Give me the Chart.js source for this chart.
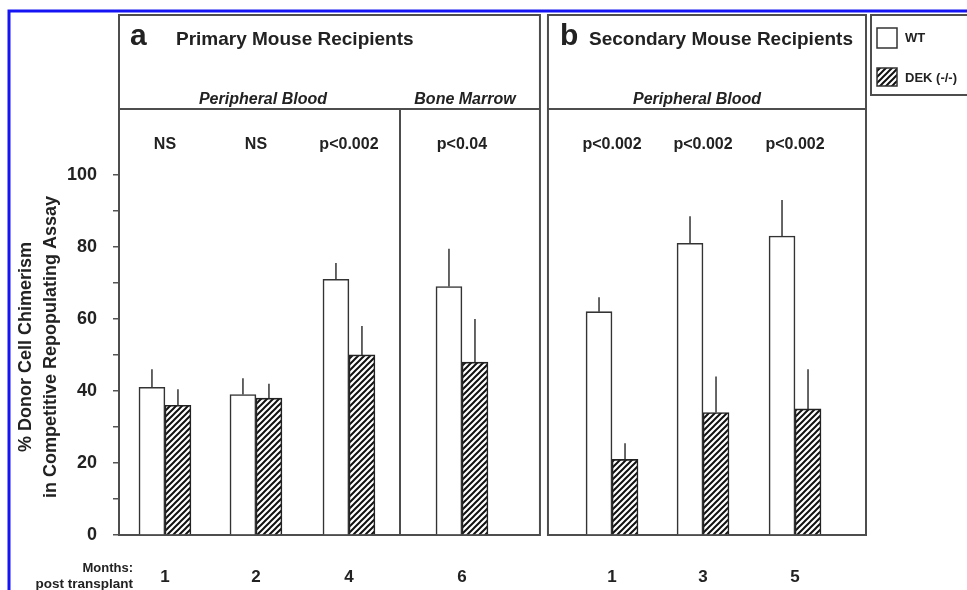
<!DOCTYPE html>
<html>
<head>
<meta charset="utf-8">
<script src="https://cdn.jsdelivr.net/npm/chart.js@4.4.1/dist/chart.umd.min.js"></script>
<style>
  body { margin: 0; background: #fff; }
  canvas { display: block; }
</style>
</head>
<body>
<canvas id="grafica_quimerismo" width="967" height="590"></canvas>
<script>
// datos
const meses = ['1', '2', '4', '6', '1', '3', '5'];
const valoresWT = [41, 39, 71, 69, 62, 81, 83];
const erroresWT = [5, 4.5, 4.5, 10.5, 4, 7.5, 10];
const valoresDEK = [36, 38, 50, 48, 21, 34, 35];
const erroresDEK = [4.5, 4, 8, 12, 4.5, 10, 11];
const significancia = ['NS', 'NS', 'p<0.002', 'p<0.04', 'p<0.002', 'p<0.002', 'p<0.002'];
const letrasPanel = ['a', 'b'];
const titulosPanel = ['Primary Mouse Recipients', 'Secondary Mouse Recipients'];
const regiones = ['Peripheral Blood', 'Bone Marrow', 'Peripheral Blood'];
const series = ['WT', 'DEK (-/-)'];
const ticksY = [0, 10, 20, 30, 40, 50, 60, 70, 80, 90, 100];

// disposicion horizontal (en unidades del eje x)
const posicionX = [0.505, 1.505, 2.527, 3.769, 5.418, 6.418, 7.429];
const panelA = [0, 4.626];
const panelB = [4.714, 8.209];
const divisorA = 3.088;
const centrosRegion = [1.582, 3.802, 6.352];

const fuente = '"Liberation Sans", Arial, Helvetica, sans-serif';
Chart.defaults.font.family = fuente;
Chart.defaults.color = '#222';

function crearRayado() {
    const c = document.createElement('canvas');
    c.width = 6;
    c.height = 6;
    const g = c.getContext('2d');
    g.fillStyle = '#fff';
    g.fillRect(0, 0, 6, 6);
    g.strokeStyle = '#111';
    g.lineWidth = 2;
    g.beginPath();
    g.moveTo(0, 6); g.lineTo(6, 0);
    g.moveTo(-1, 1); g.lineTo(1, -1);
    g.moveTo(5, 7); g.lineTo(7, 5);
    g.stroke();
    return g.createPattern(c, 'repeat');
}

const rayado = crearRayado();

// marcos, titulos, valores p y leyenda
const decoracion = {
    id: 'decoracion',
    beforeDatasetsDraw(chart) {
        const ctx = chart.ctx;
        const x = chart.scales.x, y = chart.scales.y;
        const base = y.getPixelForValue(0);
        const arriba = 15, cabecera = 109;
        ctx.save();

        // marco azul
        ctx.strokeStyle = '#1414f5';
        ctx.lineWidth = 3;
        ctx.beginPath();
        ctx.moveTo(9, 600);
        ctx.lineTo(9, 11);
        ctx.lineTo(990, 11);
        ctx.stroke();

        // paneles
        ctx.strokeStyle = '#4d4d4d';
        ctx.lineWidth = 2;
        [panelA, panelB].forEach(function (p) {
            const l = x.getPixelForValue(p[0]), r = x.getPixelForValue(p[1]);
            ctx.strokeRect(l, arriba, r - l, base - arriba);
            ctx.beginPath();
            ctx.moveTo(l, cabecera);
            ctx.lineTo(r, cabecera);
            ctx.stroke();
        });
        const d = x.getPixelForValue(divisorA);
        ctx.beginPath();
        ctx.moveTo(d, cabecera);
        ctx.lineTo(d, base);
        ctx.stroke();

        // leyenda
        ctx.strokeRect(871, arriba, 120, 80);
        ctx.lineWidth = 1.5;
        ctx.strokeStyle = '#333';
        ctx.fillStyle = '#fff';
        ctx.fillRect(877, 28, 20, 20);
        ctx.strokeRect(877, 28, 20, 20);
        ctx.fillStyle = rayado;
        ctx.fillRect(877, 68, 20, 18);
        ctx.strokeRect(877, 68, 20, 18);
        ctx.fillStyle = '#222';
        ctx.font = 'bold 13px ' + fuente;
        ctx.textAlign = 'left';
        ctx.textBaseline = 'middle';
        ctx.fillText(series[0], 905, 38);
        ctx.fillText(series[1], 905, 78);

        // titulos de panel
        ctx.textBaseline = 'alphabetic';
        ctx.font = 'bold 30px ' + fuente;
        ctx.fillText(letrasPanel[0], 130, 45);
        ctx.fillText(letrasPanel[1], 560, 45);
        ctx.font = 'bold 19px ' + fuente;
        ctx.fillText(titulosPanel[0], 176, 45);
        ctx.fillText(titulosPanel[1], 589, 45);

        // regiones
        ctx.textAlign = 'center';
        ctx.font = 'italic bold 16px ' + fuente;
        regiones.forEach(function (t, i) {
            ctx.fillText(t, x.getPixelForValue(centrosRegion[i]), 104);
        });

        // valores p
        ctx.font = 'bold 16px ' + fuente;
        ctx.textBaseline = 'middle';
        significancia.forEach(function (t, i) {
            ctx.fillText(t, x.getPixelForValue(posicionX[i]), 145);
        });

        // meses
        ctx.textAlign = 'right';
        ctx.font = 'bold 13px ' + fuente;
        ctx.fillText('Months:', 133, 568);
        ctx.font = 'bold 13.5px ' + fuente;
        ctx.fillText('post transplant', 133, 584);
        ctx.restore();
    },
    afterDatasetsDraw(chart) {
        const ctx = chart.ctx;
        const y = chart.scales.y;
        const errores = [erroresWT, erroresDEK];
        ctx.save();
        ctx.strokeStyle = '#333';
        ctx.lineWidth = 1.5;
        chart.data.datasets.forEach(function (ds, k) {
            const meta = chart.getDatasetMeta(k);
            meta.data.forEach(function (barra, i) {
                const tope = y.getPixelForValue(ds.data[i].y + errores[k][i]);
                ctx.beginPath();
                ctx.moveTo(barra.x, barra.y);
                ctx.lineTo(barra.x, tope);
                ctx.stroke();
            });
        });
        ctx.restore();
    }
};

function GraficaQuimerismo() {
    let ctx = document.getElementById('grafica_quimerismo').getContext('2d');
    const chart = new Chart(ctx, {
        type: 'bar',
        data: {
            datasets: [
                {
                    label: series[0],
                    data: posicionX.map(function (px, i) { return { x: px, y: valoresWT[i] }; }),
                    backgroundColor: '#fff',
                    borderColor: '#333',
                    borderWidth: 1.6,
                    barThickness: 26
                },
                {
                    label: series[1],
                    data: posicionX.map(function (px, i) { return { x: px, y: valoresDEK[i] }; }),
                    backgroundColor: rayado,
                    borderColor: '#222',
                    borderWidth: 1.6,
                    barThickness: 26
                }
            ]
        },
        options: {
            responsive: false,
            animation: false,
            devicePixelRatio: 1,
            layout: { padding: { top: 159, right: 101, left: 0, bottom: 0 } },
            plugins: {
                legend: { display: false },
                tooltip: { enabled: false }
            },
            scales: {
                x: {
                    type: 'linear',
                    offset: false,
                    min: 0,
                    max: 8.209,
                    grid: { display: false, offset: false },
                    border: { display: false },
                    afterBuildTicks: function (s) {
                        s.ticks = posicionX.map(function (v) { return { value: v }; });
                    },
                    afterFit: function (s) { s.height = 55; },
                    ticks: {
                        autoSkip: false,
                        maxRotation: 0,
                        padding: 24,
                        color: '#222',
                        font: { size: 17, weight: 'bold' },
                        callback: function (v, i) { return meses[i]; }
                    }
                },
                y: {
                    min: 0,
                    max: 104.4,
                    afterBuildTicks: function (s) {
                        s.ticks = ticksY.map(function (v) { return { value: v }; });
                    },
                    afterFit: function (s) { s.width = 119; },
                    grid: {
                        drawOnChartArea: false,
                        drawTicks: true,
                        tickLength: 6,
                        color: '#555',
                        lineWidth: 1.5
                    },
                    border: { display: false },
                    ticks: {
                        padding: 16,
                        color: '#222',
                        font: { size: 18, weight: 'bold' },
                        callback: function (v) { return v % 20 === 0 ? v : ''; }
                    },
                    title: {
                        display: true,
                        text: ['% Donor Cell Chimerism', 'in Competitive Repopulating Assay'],
                        color: '#222',
                        font: { size: 18, weight: 'bold', lineHeight: 1.4 },
                        padding: { top: 13, bottom: 0 }
                    }
                }
            }
        },
        plugins: [decoracion]
    });
}

GraficaQuimerismo();
</script>
</body>
</html>
